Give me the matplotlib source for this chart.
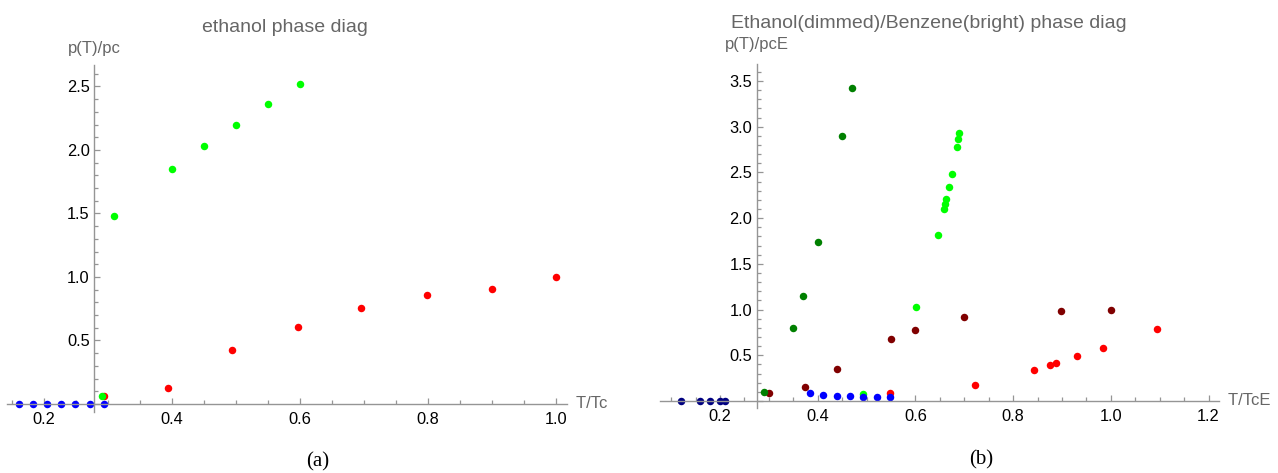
import matplotlib
matplotlib.use("Agg")
import matplotlib.pyplot as plt
from matplotlib.ticker import MultipleLocator
import matplotlib.transforms as mtransforms

plt.rcParams['font.family'] = ['Liberation Sans', 'DejaVu Sans']

# Ethanol, reduced by its own critical point
eth_sub_T = [0.160, 0.182, 0.205, 0.227, 0.248, 0.271, 0.293]
eth_sub_p = [0.0, 0.0, 0.0, 0.0, 0.0, 0.0, 0.0]
eth_melt_T = [0.290, 0.309, 0.400, 0.450, 0.500, 0.550, 0.600]
eth_melt_p = [0.065, 1.482, 1.850, 2.030, 2.200, 2.362, 2.518]
eth_vap_T = [0.294, 0.394, 0.494, 0.596, 0.695, 0.798, 0.900, 1.000]
eth_vap_p = [0.060, 0.128, 0.425, 0.604, 0.756, 0.858, 0.908, 1.000]

# Ethanol (dimmed) vs benzene (bright), both reduced by ethanol's critical point
ethE_sub_T = [0.121, 0.160, 0.180, 0.200, 0.211]
ethE_sub_p = [0.0, 0.0, 0.0, 0.0, 0.0]
ethE_melt_T = [0.290, 0.350, 0.370, 0.400, 0.450, 0.470]
ethE_melt_p = [0.095, 0.799, 1.145, 1.736, 2.896, 3.425]
ethE_vap_T = [0.301, 0.375, 0.440, 0.550, 0.599, 0.700, 0.899, 1.000]
ethE_vap_p = [0.091, 0.153, 0.350, 0.682, 0.777, 0.923, 0.989, 1.000]

benz_sub_T = [0.384, 0.411, 0.439, 0.466, 0.493, 0.521, 0.548]
benz_sub_p = [0.088, 0.066, 0.058, 0.051, 0.046, 0.043, 0.040]
benz_melt_T = [0.493, 0.602, 0.646, 0.658, 0.660, 0.663, 0.668, 0.674, 0.685, 0.688, 0.690]
benz_melt_p = [0.073, 1.028, 1.817, 2.095, 2.153, 2.208, 2.339, 2.482, 2.777, 2.869, 2.934]
benz_vap_T = [0.547, 0.722, 0.843, 0.875, 0.888, 0.930, 0.984, 1.094]
benz_vap_p = [0.084, 0.174, 0.342, 0.396, 0.418, 0.491, 0.582, 0.788]

W, H = 1278, 473
fig = plt.figure(figsize=(W / 100, H / 100), dpi=100)

axis_col = '#959595'
label_col = '#666666'
ms = 5.4


def setup_axes(ax, x0, xlim, ylim, xlabel):
    ax.set_xlim(*xlim)
    ax.set_ylim(*ylim)
    for s in ['top', 'right']:
        ax.spines[s].set_visible(False)
    ax.spines['left'].set_position(('data', x0))
    ax.spines['bottom'].set_position(('data', 0))
    for s in ['left', 'bottom']:
        ax.spines[s].set_color(axis_col)
        ax.spines[s].set_linewidth(1.0)
    ax.xaxis.set_major_locator(MultipleLocator(0.2))
    ax.xaxis.set_minor_locator(MultipleLocator(0.05))
    ax.yaxis.set_major_locator(MultipleLocator(0.5))
    ax.yaxis.set_minor_locator(MultipleLocator(0.1))
    ax.tick_params(which='both', direction='in', color=axis_col, width=0.9,
                   labelsize=11.8, labelcolor='black')
    ax.tick_params(which='major', length=4.5)
    ax.tick_params(which='minor', length=2.8)
    ax.tick_params(axis='x', pad=6)
    ax.tick_params(axis='y', pad=3)
    # no "0.0" on the y axis, it would sit on the x axis
    ax.yaxis.set_major_formatter(
        matplotlib.ticker.FuncFormatter(lambda v, p: '' if abs(v) < 1e-9 else f'{v:.1f}'))
    ax.xaxis.set_major_formatter(matplotlib.ticker.FormatStrFormatter('%.1f'))
    trans = mtransforms.blended_transform_factory(ax.transAxes, ax.transData)
    ax.text(1.0, 0, '  ' + xlabel, transform=trans, ha='left', va='center',
            fontsize=12, color=label_col)
    ax.patch.set_visible(False)


# (a) ethanol
ax1 = fig.add_axes([7 / W, 1 - 411.6 / H, 560 / W, (411.6 - 64.9) / H])
setup_axes(ax1, 0.278, (0.142, 1.017), (-0.06, 2.67), 'T/Tc')
ax1.plot(eth_vap_T, eth_vap_p, 'o', color='#ff0000', ms=ms, mec='none', clip_on=False)
ax1.plot(eth_melt_T, eth_melt_p, 'o', color='#00ff00', ms=ms, mec='none', clip_on=False)
ax1.plot(eth_sub_T, eth_sub_p, 'o', color='#0000ff', ms=ms, mec='none', clip_on=False)

# (b) ethanol vs benzene
ax2 = fig.add_axes([659.9 / W, 1 - 408.3 / H, 558.9 / W, (408.3 - 63.7) / H])
setup_axes(ax2, 0.275, (0.077, 1.221), (-0.08, 3.69), 'T/TcE')
ax2.plot(ethE_vap_T, ethE_vap_p, 'o', color='#800000', ms=ms, mec='none', clip_on=False)
ax2.plot(benz_vap_T, benz_vap_p, 'o', color='#ff0000', ms=ms, mec='none', clip_on=False)
ax2.plot(ethE_melt_T, ethE_melt_p, 'o', color='#008000', ms=ms, mec='none', clip_on=False)
ax2.plot(benz_melt_T, benz_melt_p, 'o', color='#00ff00', ms=ms, mec='none', clip_on=False)
ax2.plot(ethE_sub_T, ethE_sub_p, 'o', color='#000080', ms=ms, mec='none', clip_on=False)
ax2.plot(benz_sub_T, benz_sub_p, 'o', color='#0000ff', ms=ms, mec='none', clip_on=False)

# titles and y labels
fig.text(202 / W, 1 - 27 / H, 'ethanol phase diag', ha='left', va='center',
         fontsize=14, color=label_col)
fig.text(94 / W, 1 - 48 / H, 'p(T)/pc', ha='center', va='center',
         fontsize=12, color=label_col)
fig.text(731 / W, 1 - 23 / H, 'Ethanol(dimmed)/Benzene(bright) phase diag', ha='left',
         va='center', fontsize=14, color=label_col)
fig.text(757 / W, 1 - 45 / H, 'p(T)/pcE', ha='center', va='center',
         fontsize=12, color=label_col)

# panel captions
fig.text(318 / W, 1 - 462 / H, '(a)', ha='center', va='center', fontsize=15,
         family='Liberation Serif')
fig.text(981 / W, 1 - 460 / H, '(b)', ha='center', va='center', fontsize=15,
         family='Liberation Serif')

fig.savefig('out.png', dpi=100)
